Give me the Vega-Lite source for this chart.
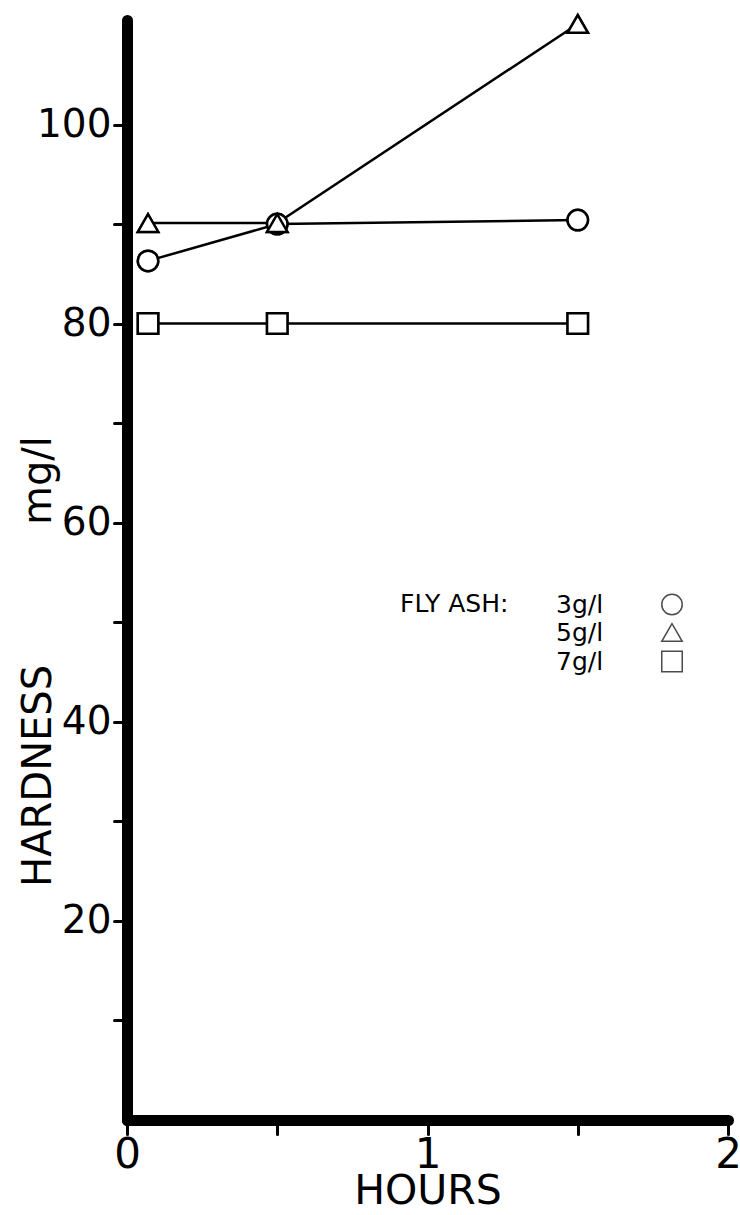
{
  "$schema": "https://vega.github.io/schema/vega-lite/v6.json",
  "width": 601,
  "height": 1100,
  "autosize": {"type": "none"},
  "padding": {"left": 127, "top": 20, "right": 12, "bottom": 95},
  "background": "white",
  "config": {
    "view": {"stroke": null},
    "font": "DejaVu Sans",
    "axis": {
      "grid": false,
      "domainColor": "black",
      "tickColor": "black",
      "labelColor": "black",
      "titleColor": "black",
      "titleFontWeight": "normal",
      "labelOverlap": false,
      "labelFlush": false
    }
  },
  "data": {
    "values": [
      {"dose": "3g/l", "hours": 0.07, "hardness": 86.3},
      {"dose": "3g/l", "hours": 0.5, "hardness": 90},
      {"dose": "3g/l", "hours": 1.5, "hardness": 90.4},
      {"dose": "5g/l", "hours": 0.07, "hardness": 90.1},
      {"dose": "5g/l", "hours": 0.5, "hardness": 90.1},
      {"dose": "5g/l", "hours": 1.5, "hardness": 110.1},
      {"dose": "7g/l", "hours": 0.07, "hardness": 80},
      {"dose": "7g/l", "hours": 0.5, "hardness": 80},
      {"dose": "7g/l", "hours": 1.5, "hardness": 80}
    ]
  },
  "encoding": {
    "x": {
      "field": "hours",
      "type": "quantitative",
      "scale": {"domain": [0, 2], "nice": false},
      "axis": {
        "title": "HOURS",
        "values": [0, 0.5, 1, 1.5, 2],
        "labelExpr": "datum.value % 1 === 0 ? format(datum.value, 'd') : ''",
        "domainWidth": 11,
        "domainCap": "round",
        "tickSize": 14,
        "tickWidth": 3,
        "tickCap": "round",
        "labelFontSize": 42,
        "labelPadding": 0,
        "titleFontSize": 41,
        "titlePadding": -4
      }
    },
    "y": {
      "field": "hardness",
      "type": "quantitative",
      "scale": {"domain": [0, 110.5], "nice": false},
      "axis": {
        "title": "HARDNESS\u00a0\u00a0\u00a0\u00a0\u00a0\u00a0\u00a0\u00a0\u00a0\u00a0\u00a0mg/l",
        "values": [10, 20, 30, 40, 50, 60, 70, 80, 90, 100],
        "labelExpr": "datum.value % 20 === 0 ? format(datum.value, 'd') : ''",
        "domainWidth": 11,
        "domainCap": "round",
        "tickSize": 13,
        "tickWidth": 3,
        "tickCap": "round",
        "labelFontSize": 39,
        "labelPadding": 3,
        "titleFontSize": 40,
        "titleAngle": 270,
        "titleX": -89,
        "titleY": 641,
        "titleAlign": "center",
        "titleBaseline": "middle"
      }
    }
  },
  "layer": [
    {
      "mark": {"type": "line", "color": "black", "strokeWidth": 2.5},
      "encoding": {"detail": {"field": "dose"}}
    },
    {
      "mark": {"type": "point", "color": "black", "strokeWidth": 2.5, "size": 420},
      "encoding": {
        "shape": {
          "field": "dose",
          "type": "nominal",
          "scale": {
            "domain": ["3g/l", "5g/l", "7g/l"],
            "range": ["circle", "triangle-up", "square"]
          },
          "legend": {
            "title": "FLY ASH:",
            "orient": "none",
            "legendX": 273,
            "legendY": 572,
            "titleOrient": "left",
            "titleAnchor": "start",
            "titleBaseline": "top",
            "titleFontSize": 25,
            "titleFontWeight": "normal",
            "titleColor": "black",
            "titlePadding": 20,
            "labelFontSize": 25,
            "labelColor": "black",
            "labelOffset": -128.5,
            "symbolOffset": 130.5,
            "symbolSize": 420,
            "rowPadding": 2
          }
        }
      }
    },
    {
      "transform": [{"filter": "datum.dose === '3g/l'"}],
      "mark": {
        "type": "point",
        "shape": "circle",
        "filled": true,
        "fill": "white",
        "stroke": "black",
        "strokeWidth": 2.5,
        "size": 420,
        "opacity": 1
      }
    },
    {
      "transform": [{"filter": "datum.dose === '5g/l'"}],
      "mark": {
        "type": "point",
        "shape": "triangle-up",
        "filled": true,
        "fill": "white",
        "stroke": "black",
        "strokeWidth": 2.5,
        "size": 420,
        "opacity": 1
      }
    },
    {
      "transform": [{"filter": "datum.dose === '7g/l'"}],
      "mark": {
        "type": "point",
        "shape": "square",
        "filled": true,
        "fill": "white",
        "stroke": "black",
        "strokeWidth": 2.5,
        "size": 420,
        "opacity": 1
      }
    }
  ]
}
